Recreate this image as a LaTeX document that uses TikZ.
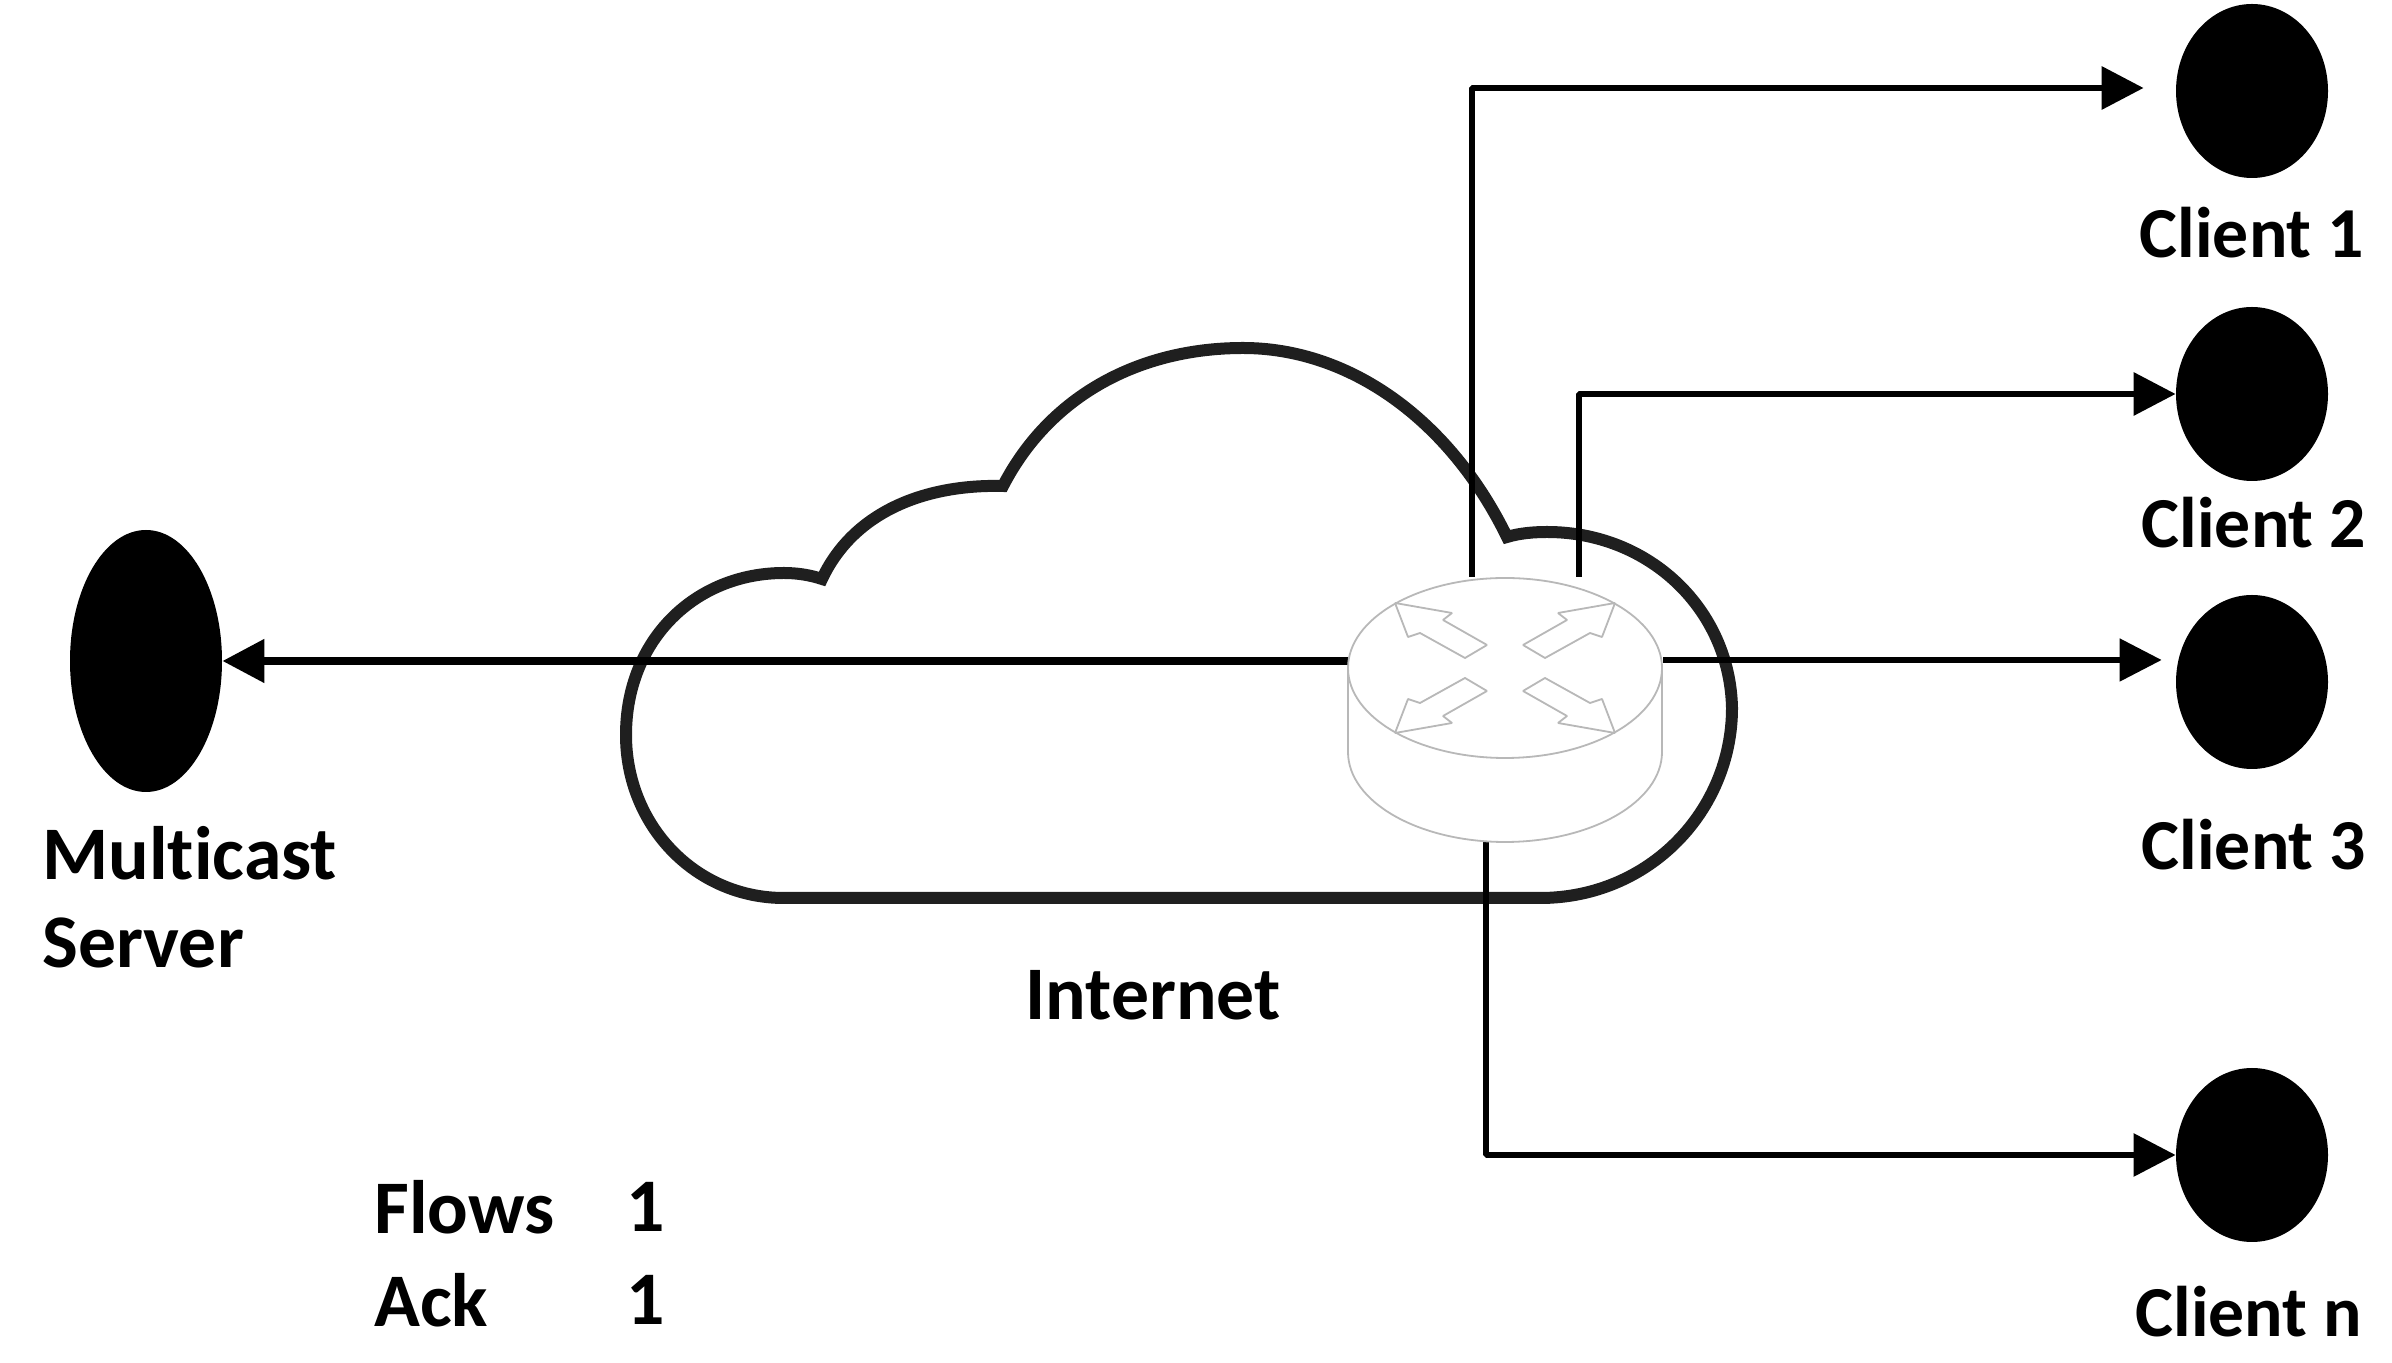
\documentclass[tikz,border=0pt]{standalone}
\usepackage{fontspec}
\setmainfont{Carlito}[Ligatures=NoCommon]
\usetikzlibrary{arrows.meta,shapes.geometric}

\tikzset{
  host/.style={draw=none,fill=black,ellipse,inner sep=0pt,minimum width=76bp,minimum height=87bp},
  hostlabel/.style={inner sep=0pt,text=black,font=\bfseries\fontsize{36}{44}\selectfont},
  plainlabel/.style={inner sep=0pt,text=black,font=\bfseries\fontsize{38}{44}\selectfont},
  link/.style={black,line width=3bp,->},
  routerline/.style={draw=black!28,line width=0.9bp,fill=white},
}

\begin{document}
\begin{tikzpicture}[>={Triangle[length=21bp,width=21bp]},line join=bevel,]
\useasboundingbox (0bp,0bp) rectangle (1196bp,681.5bp);
%%
\node (server) at (73bp,351bp) [host,minimum height=131bp] {};
  \node (client1) at (1126bp,636bp) [host] {};
  \node (client2) at (1126bp,484.5bp) [host] {};
  \node (client3) at (1126bp,340.5bp) [host] {};
  \node (clientn) at (1126bp,104bp) [host] {};
  \node (serverlabel) at (21bp,233bp) [plainlabel,anchor=west,align=left] {Multicast\\Server};
  \node (client1label) at (1126bp,565bp) [hostlabel] {Client 1};
  \node (client2label) at (1127bp,420bp) [hostlabel] {Client 2};
  \node (client3label) at (1127bp,259bp) [hostlabel] {Client 3};
  \node (clientnlabel) at (1124.5bp,25.5bp) [hostlabel] {Client n};
  \node (internet) at (576.5bp,184bp) [plainlabel] {Internet};
  \node (flows) at (187bp,78bp) [plainlabel,anchor=west] {Flows};
  \node (flowsnum) at (323bp,78bp) [plainlabel] {1};
  \node (ack) at (187bp,31.5bp) [plainlabel,anchor=west] {Ack};
  \node (acknum) at (323bp,31.5bp) [plainlabel] {1};
%% the cloud
  \draw [black!88,line width=6bp,line join=miter] (411bp,392bp)
    ..controls (426bp,424bp) and (460bp,439.5bp) .. (501.5bp,438.5bp)
    ..controls (525bp,484bp) and (570bp,507.5bp) .. (621.5bp,507.5bp)
    ..controls (675bp,507.5bp) and (725bp,471.5bp) .. (753.5bp,413bp)
    ..controls (760bp,415bp) and (767.5bp,415.5bp) .. (773.5bp,415.5bp)
    ..controls (825bp,415.5bp) and (865bp,376.5bp) .. (866bp,327.5bp)
    ..controls (866bp,276.5bp) and (825bp,232.5bp) .. (770bp,232.5bp)
    -- (392bp,232.5bp)
    ..controls (347.5bp,232.5bp) and (313bp,269bp) .. (313bp,314bp)
    ..controls (313bp,361.5bp) and (347.5bp,395bp) .. (392bp,395bp)
    ..controls (398.5bp,395bp) and (405bp,394bp) .. cycle;
%% ports on the router
  \coordinate (portw) at (674bp,351bp);
  \coordinate (portn1) at (736bp,393bp);
  \coordinate (portn2) at (789.5bp,393bp);
  \coordinate (porte) at (831.5bp,351.5bp);
  \coordinate (ports) at (743bp,260.5bp);
  \draw [link,line width=4bp] (portw) -- (server);
  \draw [link,line width=3.3bp,shorten >=16bp] (portn1) |- ([yshift=1.5bp]client1.west);
  \draw [link,line width=3.2bp] (portn2) |- (client2);
  \draw [link,line width=2.6bp,shorten >=7bp] (porte) -- (porte -| client3.west);
  \draw [link] (ports) |- (clientn);
%% the router
  \draw [routerline] (674bp,347.5bp) -- (674bp,305.5bp) arc [start angle=180,end angle=360,x radius=157bp/2,y radius=45bp] -- (831bp,347.5bp);
  \draw [routerline] (752.5bp,347.5bp) ellipse [x radius=157bp/2,y radius=45bp];
  \foreach \sx/\sy in {1/1,-1/1,-1/-1,1/-1} {
    \begin{scope}[shift={(752.5bp,347.5bp)},xscale=\sx,yscale=\sy]
      \draw [routerline,fill=none] (55bp,32.5bp) -- (26.5bp,27.5bp) -- (31bp,24bp) -- (9bp,11.5bp) -- (20bp,5bp) -- (42.5bp,17.5bp) -- (48.5bp,15.5bp) -- cycle;
    \end{scope}
  }
%
\end{tikzpicture}
\end{document}
